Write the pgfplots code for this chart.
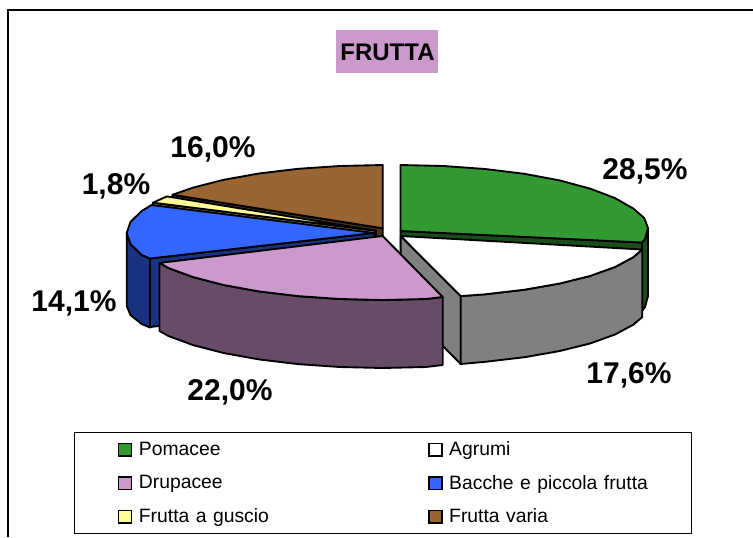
\documentclass[border=0pt]{standalone}
\usepackage{fontspec}
\setmainfont{Liberation Sans}
\usepackage{pgfplots}
\pgfplotsset{compat=1.18}
\definecolor{pom}{HTML}{339933}\definecolor{pomd}{HTML}{1A4D1A}
\definecolor{agrd}{HTML}{808080}
\definecolor{dru}{HTML}{CC99CC}\definecolor{drud}{HTML}{664C66}
\definecolor{bac}{HTML}{3366FF}\definecolor{bacd}{HTML}{1A3380}
\definecolor{gus}{HTML}{FFFF99}\definecolor{gusd}{HTML}{808050}
\definecolor{var}{HTML}{996633}\definecolor{vard}{HTML}{4D331A}
\tikzset{pct/.style={font=\fontsize{22.5}{26}\selectfont\bfseries, inner sep=0pt}}
\begin{document}
\begin{tikzpicture}
\begin{axis}[
  scale only axis, width=564.75pt, height=402.75pt,
  xmin=0, xmax=753, ymin=0, ymax=537, y dir=reverse,
  hide axis, no markers,
  pie/.style={forget plot, sharp plot, draw=black, line width=1.4pt, line join=round, fill=#1},
  legend image code/.code={\draw[#1] (0pt,-4.7pt) rectangle (9.6pt,4.7pt);},
  legend cell align=left,
  legend columns=2,
  legend style={
    at={(axis cs:73.5,432)}, anchor=north west, draw=black, line width=.75pt,
    font=\fontsize{14.5}{17}\selectfont, fill=white,
    inner xsep=33pt, inner ysep=5pt, row sep=9pt,
    /tikz/column 1/.style={column sep=3pt},
    /tikz/column 2/.style={text width=215pt},
    /tikz/column 3/.style={column sep=3pt},
    /tikz/column 4/.style={text width=146.5pt},
  },
]
% legend first, in the reference's order
\addlegendimage{fill=pom, draw=black, line width=1.1pt}
\addlegendentry{Pomacee}
\addlegendimage{fill=white, draw=black, line width=1.1pt}
\addlegendentry{Agrumi}
\addlegendimage{fill=dru, draw=black, line width=1.1pt}
\addlegendentry{Drupacee}
\addlegendimage{fill=bac, draw=black, line width=1.1pt}
\addlegendentry{\mbox{Bacche e piccola frutta}}
\addlegendimage{fill=gus, draw=black, line width=1.1pt}
\addlegendentry{Frutta a guscio}
\addlegendimage{fill=var, draw=black, line width=1.1pt}
\addlegendentry{Frutta varia}

% page background, keeps the whole 753x537 box in the picture
\addplot[forget plot, fill=white, draw=none] coordinates {(0,0) (753,0) (753,537) (0,537)} -- cycle;

% chart frame, open on the right and at the bottom
\addplot[forget plot, black, line width=1pt] coordinates {(753,10) (8,10) (8,537)};

% title box
\addplot[forget plot, fill=dru, draw=none] coordinates {(336,30) (438,30) (438,73) (336,73)} -- cycle;
\node[font=\fontsize{18}{21}\selectfont\bfseries, inner sep=0pt] at (axis cs:387.5,52) {FRUTTA};

% Frutta varia
\addplot[pie=vard] coordinates {(172.5,194.8) (382.7,228.3) (382.7,296) (172.5,263)} -- cycle;
\addplot[pie=var] coordinates {(382.7,228.3) (172.5,194.8) (193.1,187.6) (223.6,179.8) (258.9,173.5) (298.1,168.8) (339.7,166) (382.7,165)} -- cycle;

% Frutta a guscio
\addplot[pie=gusd] coordinates {(153,202.7) (376,230.7) (376,299) (153,271)} -- cycle;
\addplot[pie=gus] coordinates {(376,230.7) (153,202.7) (161.7,198.7) (167,196.4)} -- cycle;

% Pomacee
\addplot[pie=pomd] coordinates {(400.5,231) (642,242.5) (642,311) (400.5,299)} -- cycle;
\addplot[pie=pomd] coordinates {(648,228) (645,239) (642,242.5) (642,311) (645,307) (648,296)} -- cycle;
\addplot[pie=pom] coordinates {(400.5,231) (400.5,165) (443.5,166) (485.1,169) (524.3,173.8) (559.6,180.4) (590.1,188.6) (614.8,198) (633.1,208.4) (644.2,218) (648,228) (645,239) (642,242.5)} -- cycle;

% Bacche e piccola frutta
\addplot[pie=bacd] coordinates {(150,258.5) (374.2,233) (374.2,302) (150,327)} -- cycle;
\addplot[pie=bacd] coordinates {(126.7,233) (130.5,244.1) (141.6,254.9) (150,258.5) (150,327.5) (141.6,324) (130.5,315) (126.7,306)} -- cycle;
\addplot[pie=bac] coordinates {(374.2,233) (150,258.5) (141.6,254.9) (130.5,244.1) (126.7,233) (130.5,221.9) (141.6,211.1) (151.5,205)} -- cycle;

% Agrumi
\addplot[pie=agrd] coordinates {(400.7,236) (460.7,296.1) (460.7,364) (400.7,303.5)} -- cycle;
\addplot[pie=agrd] coordinates {(642.2,249.5) (633.3,257.2) (615,267) (590.3,275.9) (559.8,283.5) (524.5,289.7) (485.3,294.3) (460.7,296.1) (460.7,364) (485.3,361.8) (524.5,357.2) (559.8,351) (590.3,343.4) (615,334.5) (633.3,324.7) (642.2,317)} -- cycle;
\addplot[pie=white] coordinates {(400.7,236) (642.2,249.5) (633.3,257.2) (615,267) (590.3,275.9) (559.8,283.5) (524.5,289.7) (485.3,294.3) (460.7,296.1)} -- cycle;

% Drupacee
\addplot[pie=drud] coordinates {(442.7,297) (425.7,299) (382.7,300) (339.7,299) (298.1,296.1) (258.9,291.4) (223.6,285) (193.1,277.1) (168.4,268) (159.5,262.9) (159.5,331) (168.4,336) (193.1,345.1) (223.6,353) (258.9,359.4) (298.1,364.1) (339.7,367) (382.7,368) (425.7,367) (442.7,365)} -- cycle;
\addplot[pie=dru] coordinates {(382.7,236) (442.7,297) (425.7,299) (382.7,300) (339.7,299) (298.1,296.1) (258.9,291.4) (223.6,285) (193.1,277.1) (168.4,268) (159.5,262.9)} -- cycle;

% percentages
\node[pct] at (axis cs:645,171) {28,5\%};
\node[pct] at (axis cs:629,375) {17,6\%};
\node[pct] at (axis cs:230,392) {22,0\%};
\node[pct] at (axis cs:74,303) {14,1\%};
\node[pct] at (axis cs:116,186) {1,8\%};
\node[pct] at (axis cs:213,149) {16,0\%};
\end{axis}
\end{tikzpicture}
\end{document}
